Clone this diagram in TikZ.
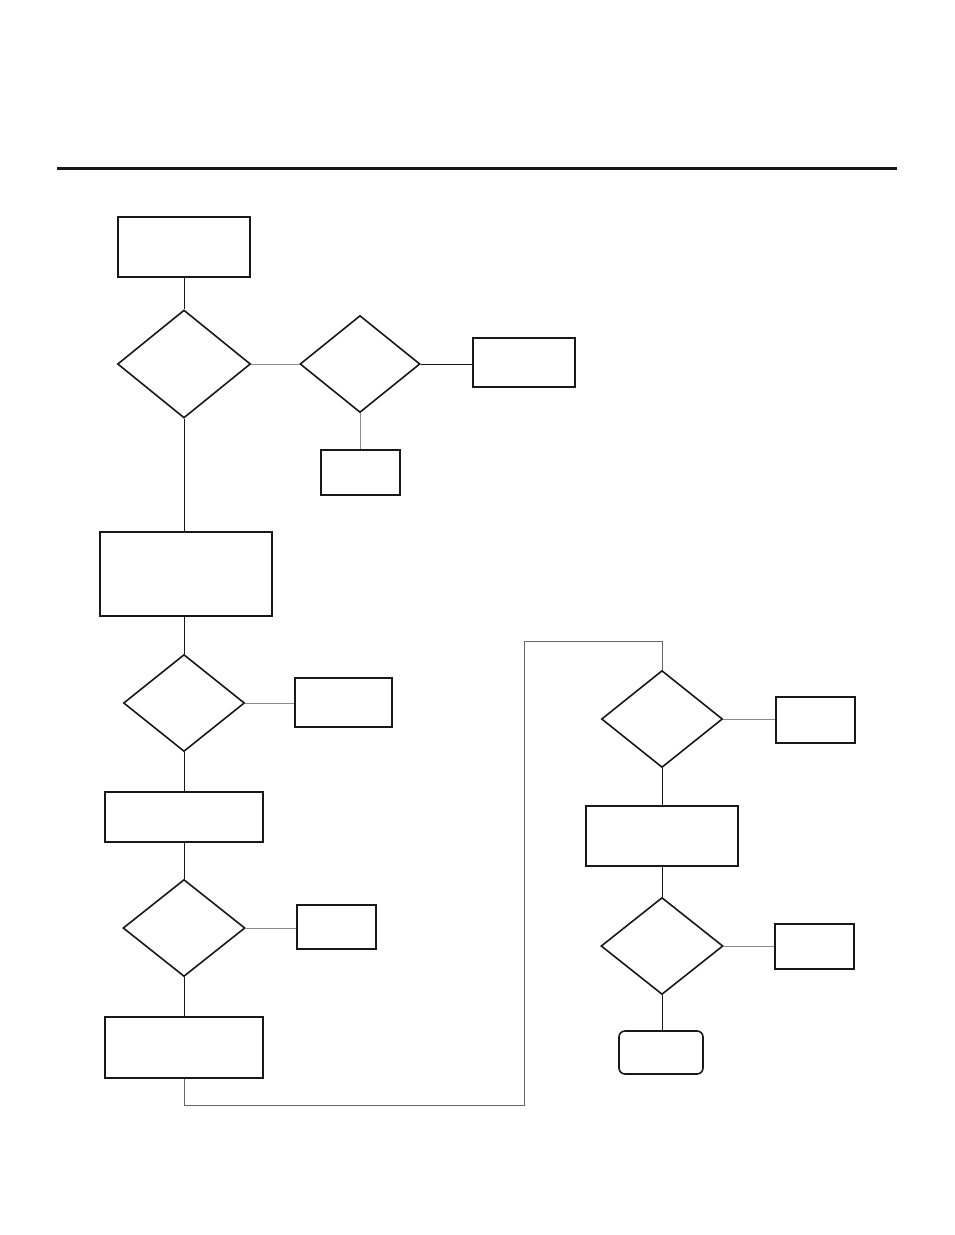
\documentclass[tikz,border=0pt]{standalone}
\usetikzlibrary{shapes.geometric}

\begin{document}
\begin{tikzpicture}[
  x=1pt,y=-1pt,
  box/.style={draw=black!90,line width=2pt,fill=white,inner sep=0pt},
  decision/.style={diamond,draw=black!90,line width=1.6pt,fill=white,inner sep=0pt},
  terminal/.style={draw=black!90,line width=1.6pt,fill=white,rounded corners=6pt,inner sep=0pt},
  link/.style={draw=black!90,line width=1pt},
  sidelink/.style={draw=black!45,line width=1pt}
]
\useasboundingbox (0,0) rectangle (954,1235);
\draw[black!90,line width=3pt] (57,168) -- (897,168);
% left column
\node[box,minimum width=132pt,minimum height=60pt] (start) at (184,247) {};
\node[decision,minimum width=133pt,minimum height=108pt] (q1) at (184,364) {};
\node[decision,minimum width=120pt,minimum height=97pt] (q2) at (360,364) {};
\node[box,minimum width=102pt,minimum height=49pt] (r2) at (524,362) {};
\node[box,minimum width=79pt,minimum height=45pt] (r2b) at (360.5,472.5) {};
\node[box,minimum width=172pt,minimum height=84pt] (s1) at (186,574) {};
\node[decision,minimum width=121pt,minimum height=97pt] (q3) at (184,703) {};
\node[box,minimum width=97pt,minimum height=49pt] (r3) at (343.5,702.5) {};
\node[box,minimum width=158pt,minimum height=50pt] (s2) at (184,817) {};
\node[decision,minimum width=122pt,minimum height=97pt] (q4) at (184,928) {};
\node[box,minimum width=79pt,minimum height=44pt] (r4) at (336.5,927) {};
\node[box,minimum width=158pt,minimum height=61pt] (s3) at (184,1047.5) {};
% right column
\node[decision,minimum width=121pt,minimum height=97pt] (q5) at (662,719) {};
\node[box,minimum width=79pt,minimum height=46pt] (r5) at (815.5,720) {};
\node[box,minimum width=152pt,minimum height=60pt] (s4) at (662,836) {};
\node[decision,minimum width=122pt,minimum height=97pt] (q6) at (662,946) {};
\node[box,minimum width=79pt,minimum height=45pt] (r6) at (814.5,946.5) {};
\node[terminal,minimum width=84pt,minimum height=43pt] (stop) at (661,1052.5) {};
\coordinate (c1) at (184,1105);
\coordinate (c2) at (524,1105);
\coordinate (c3) at (524,641);
\coordinate (c4) at (662,641);
% connectors
\draw[link] (start) -- (q1);
\draw[link] (q1.south) -- (s1.north -| q1.south);
\draw[sidelink] (q1) -- (q2);
\draw[link] (q2) -- (r2.west |- q2.east);
\draw[sidelink] (q2.south) -- (r2b.north -| q2.south);
\draw[link] (s1.south -| q3.north) -- (q3);
\draw[sidelink] (q3) -- (r3.west |- q3.east);
\draw[link] (q3) -- (s2);
\draw[sidelink] (q4) -- (r4.west |- q4.east);
\draw[link] (s2) -- (q4);
\draw[link] (q4) -- (s3);
\draw[black!60,line width=1pt] (s3.south) -- (c1) -- (c2) -- (c3) -- (c4) -- (q5.north);
\draw[sidelink] (q5) -- (r5.west |- q5.east);
\draw[link] (q5) -- (s4);
\draw[link] (s4) -- (q6);
\draw[sidelink] (q6) -- (r6.west |- q6.east);
\draw[link] (q6.south) -- (stop.north -| q6.south);
\end{tikzpicture}
\end{document}
